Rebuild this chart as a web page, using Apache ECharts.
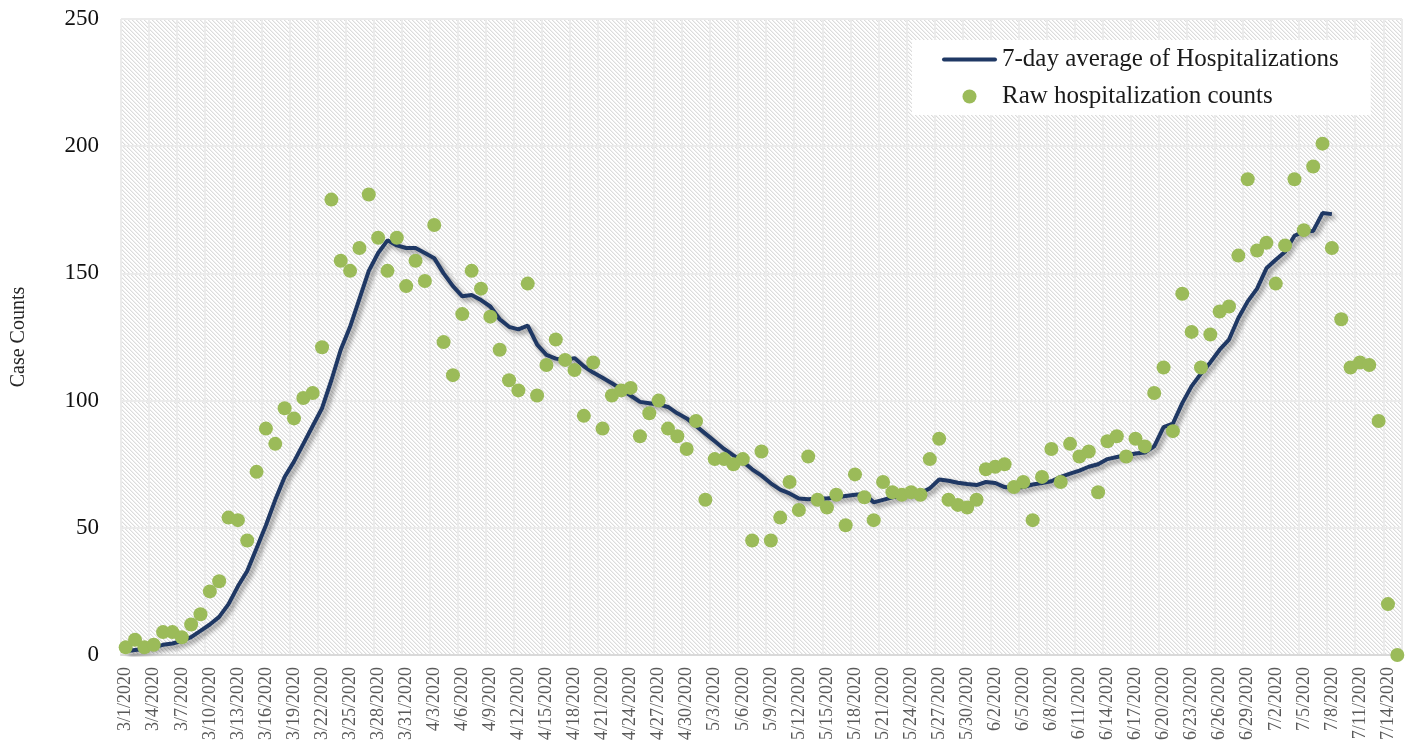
<!DOCTYPE html>
<html>
<head>
<meta charset="utf-8">
<script src="https://cdn.jsdelivr.net/npm/echarts/dist/echarts.min.js"></script>
<style>
  html, body { margin: 0; padding: 0; background: #fff; }
  #chart { width: 1413px; height: 746px; }
</style>
</head>
<body>
<div id="chart"></div>
<script>
// x categories: every day from 3/1/2020 to 7/15/2020
const months = [[3, 31], [4, 30], [5, 31], [6, 30], [7, 15]]
const dates = []
months.forEach(([m, n]) => {
  for (let d = 1; d <= n; d++) dates.push(m + '/' + d + '/2020')
})

// raw daily hospitalization counts
const rawCounts = [
  3, 6, 3, 4, 9, 9, 7, 12, 16, 25, 29, 54, 53, 45, 72, 89, 83, 97, 93, 101,
  103, 121, 179, 155, 151, 160, 181, 164, 151, 164, 145, 155, 147, 169, 123,
  110, 134, 151, 144, 133, 120, 108, 104, 146, 102, 114, 124, 116, 112, 94,
  115, 89, 102, 104, 105, 86, 95, 100, 89, 86, 81, 92, 61, 77, 77, 75, 77, 45, 80,
  45, 54, 68, 57, 78, 61, 58, 63, 51, 71, 62, 53, 68, 64, 63, 64, 63, 77, 85,
  61, 59, 58, 61, 73, 74, 75, 66, 68, 53, 70, 81, 68,
  83, 78, 80, 64, 84, 86, 78, 85, 82, 103, 113, 88, 142, 127, 113, 126, 135,
  137, 157, 187, 159, 162, 146, 161, 187, 167, 192, 201, 160, 132, 113, 115,
  114, 92, 20, 0
]

// 7-day average line (ends on 7/8/2020)
const avg7 = [
  1.5, 2, 2.4, 3, 4, 4.5, 5.5, 7, 9.5, 12, 15, 20, 27, 33, 42, 51, 61, 70, 76, 83,
  90, 97, 108, 120, 129, 140, 151, 158, 163, 161, 160, 160, 158, 156, 150,
  145, 141, 141.5, 139.5, 137, 132, 129, 128, 129.5, 122, 118, 116.5, 116, 116.7, 113.5,
  111, 109, 106.8, 104.5, 102, 99.5, 99, 98.5, 97.5, 95, 93, 90, 87, 84, 81, 78.5, 76, 73, 70.5,
  67.5, 65, 63.5, 61.5, 61.2, 61.5, 61.5, 62, 62.5, 63, 63.3, 60, 61, 62, 62.5, 63, 63.7,
  65.5, 69, 68.5, 67.7, 67.2, 66.8, 68, 67.6, 66, 65.6, 66, 67, 67.6, 68.3, 70,
  71.3, 72.5, 74, 75, 77, 77.8, 78.5, 79.2, 79.6, 82, 89.6, 91, 99, 105.7, 110.6,
  115, 120, 124, 132.5, 139, 144, 152, 155.4, 158.5, 164.8, 166.5, 166.7, 173.7, 173.3
]

const yTicks = { min: 0, max: 250, step: 50 }

const serif = "'Liberation Serif', 'DejaVu Serif', serif"

// hatched plot background
const tile = document.createElement('canvas')
tile.width = 4
tile.height = 4
const tc = tile.getContext('2d')
tc.fillStyle = '#ffffff'
tc.fillRect(0, 0, 4, 4)
for (let i = 0; i < 4; i++) {
  tc.fillStyle = '#dcdcdc'
  tc.fillRect(i, i, 1, 1)
  tc.fillStyle = '#f0f0f0'
  tc.fillRect((i + 1) % 4, i, 1, 1)
}

const chart = echarts.init(document.getElementById('chart'))
chart.setOption({
  animation: false,
  grid: {
    left: 121, right: 11, top: 19, bottom: 91,
    show: true,
    borderWidth: 0,
    backgroundColor: { image: tile, repeat: 'repeat' }
  },
  legend: {
    left: 912, top: 40,
    orient: 'vertical',
    align: 'left',
    backgroundColor: '#fff',
    padding: [7, 32, 6, 30],
    itemWidth: 55,
    itemHeight: 14,
    itemGap: 12,
    textStyle: { fontFamily: serif, fontSize: 25, color: '#1a1a1a' },
    data: [
      { name: '7-day average of Hospitalizations', icon: 'path://M2,0 L53,0 A2,2 0 0 1 53,4 L2,4 A2,2 0 0 1 2,0 Z' },
      { name: 'Raw hospitalization counts', icon: 'circle' }
    ]
  },
  xAxis: {
    type: 'category',
    data: dates,
    boundaryGap: true,
    axisLine: { lineStyle: { color: '#d9d9d9', width: 2 } },
    axisTick: { show: false },
    axisLabel: {
      interval: 2, rotate: 90, margin: 12,
      fontFamily: serif, fontSize: 18, color: '#595959'
    },
    splitLine: { show: true, interval: 2, lineStyle: { color: '#ebebeb', width: 2 } }
  },
  yAxis: {
    type: 'value',
    min: yTicks.min, max: yTicks.max, interval: yTicks.step,
    name: 'Case Counts',
    nameLocation: 'middle',
    nameGap: 92,
    nameRotate: 90,
    nameTextStyle: { fontFamily: serif, fontSize: 20, color: '#262626' },
    axisLine: { show: false },
    axisTick: { show: false },
    axisLabel: { fontFamily: serif, fontSize: 23, color: '#111', margin: 22 },
    splitLine: { lineStyle: { color: '#ebebeb', width: 2 } }
  },
  series: [
    {
      name: '7-day average of Hospitalizations',
      type: 'line',
      data: avg7,
      symbol: 'none',
      z: 2,
      itemStyle: { color: '#1f3864' },
      lineStyle: {
        color: '#1f3864', width: 4,
        shadowColor: 'rgba(0,0,0,0.45)', shadowBlur: 5,
        shadowOffsetX: 3, shadowOffsetY: 3
      }
    },
    {
      name: 'Raw hospitalization counts',
      type: 'scatter',
      data: rawCounts,
      symbolSize: 14,
      z: 3,
      itemStyle: { color: '#9bbb59', opacity: 1 }
    }
  ]
})
</script>
</body>
</html>
